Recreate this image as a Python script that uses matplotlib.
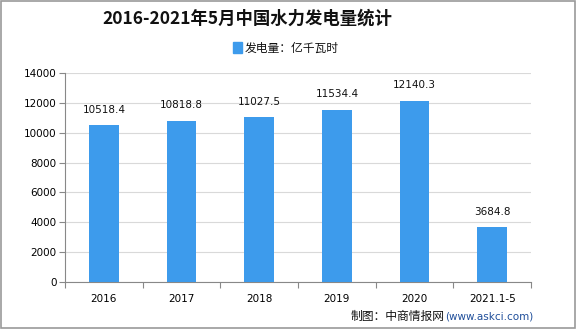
import matplotlib
matplotlib.use("Agg")
import matplotlib.pyplot as plt
from matplotlib.patches import Rectangle

plt.rcParams['font.family'] = ['Noto Sans CJK SC', 'DejaVu Sans']

categories = ["2016", "2017", "2018", "2019", "2020", "2021.1-5"]
values = [10518.4, 10818.8, 11027.5, 11534.4, 12140.3, 3684.8]
value_labels = ["10518.4", "10818.8", "11027.5", "11534.4", "12140.3", "3684.8"]
yticks = [0, 2000, 4000, 6000, 8000, 10000, 12000, 14000]

fig = plt.figure(figsize=(5.76, 3.29), dpi=100)
ax = fig.add_axes([0.113, 0.143, 0.809, 0.635])

x = range(len(categories))
bar_color = "#3d9bec"
ax.bar(x, values, width=0.38, color=bar_color, zorder=3)
for xi, v, lab in zip(x, values, value_labels):
    ax.text(xi, v + 700, lab, ha='center', va='bottom', fontsize=7.5,
            family=['DejaVu Sans'], color='#111111', zorder=4)

ax.set_xlim(-0.5, len(categories) - 0.5)
ax.set_ylim(0, 14000)
ax.set_yticks(yticks)
ax.set_yticklabels([str(t) for t in yticks], fontsize=7.5, family=['DejaVu Sans'])
ax.yaxis.grid(True, color='#d9d9d9', linewidth=0.8, zorder=0)
ax.set_xticks([i - 0.5 for i in range(len(categories) + 1)], minor=False)
ax.set_xticklabels([])
ax.set_xticks(list(x), minor=True)
ax.set_xticklabels(categories, minor=True, fontsize=7.5, family=['DejaVu Sans'])
ax.tick_params(axis='x', which='minor', length=0, pad=9)
ax.tick_params(axis='x', which='major', length=4, color='#888888')
ax.tick_params(axis='y', length=4, color='#888888', pad=2)
for s in ['top', 'right']:
    ax.spines[s].set_visible(False)
for s in ['left', 'bottom']:
    ax.spines[s].set_color('#888888')

fig.text(0.43, 0.942, "2016-2021年5月中国水力发电量统计", ha='center', va='center',
         fontsize=12.5, fontweight='bold', color='#111111')

# legend
fig.patches.append(Rectangle((0.404, 0.838), 0.016, 0.033, transform=fig.transFigure,
                             color=bar_color, figure=fig))
fig.text(0.424, 0.854, "发电量：亿千瓦时", ha='left', va='center', fontsize=8.5, color='#111111')

fig.text(0.772, 0.038, "制图：中商情报网", ha='right', va='center', fontsize=8.5, color='#111111')
fig.text(0.772, 0.038, "(www.askci.com)", ha='left', va='center', fontsize=7.5,
         color='#1f4e9a', family=['DejaVu Sans'])

# border
fig.patches.append(Rectangle((0.001, 0.002), 0.997, 0.995, transform=fig.transFigure,
                             fill=False, edgecolor='#9a9a9a', linewidth=1.2, figure=fig))

fig.savefig("out.png", dpi=100)
